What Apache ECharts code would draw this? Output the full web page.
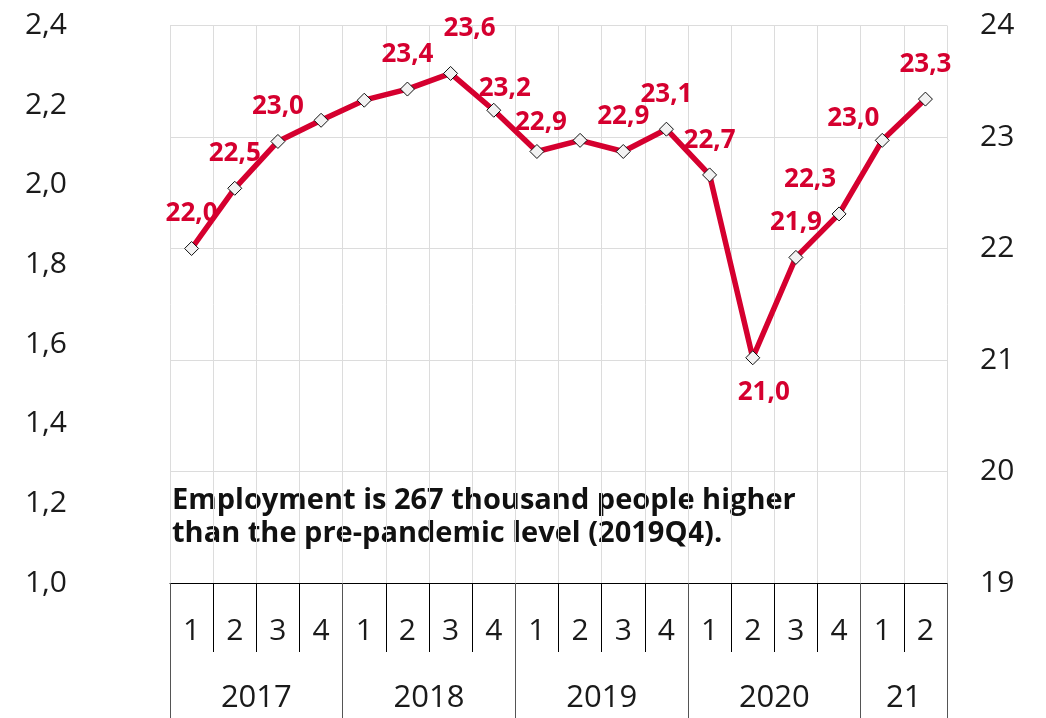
<!DOCTYPE html>
<html>
<head>
    <meta charset="UTF-8">
    <title>Employment</title>
    <script src="https://cdn.jsdelivr.net/npm/echarts@6/dist/echarts.min.js"></script>
    <style>
        html, body {margin: 0; padding: 0; background: #fff;}
        #chart {width: 1046px; height: 718px;}
    </style>
</head>
<body>

<div id="chart"></div>

<script>
    // quarters and years on the two-level x axis
    var quarters = ['1', '2', '3', '4', '1', '2', '3', '4', '1', '2', '3', '4', '1', '2', '3', '4', '1', '2'];
    var years = ['2017', '2018', '2019', '2020', '21'];
    var yearSpans = [4, 4, 4, 4, 2]; // quarters per year

    // employment, millions (right axis)
    var employment = [22.00, 22.54, 22.96, 23.15, 23.33, 23.43, 23.57, 23.24, 22.87, 22.97,
                      22.87, 23.07, 22.66, 21.02, 21.92, 22.31, 22.97, 23.34];
    // which points carry a value label
    var labelShown = [1, 1, 1, 0, 0, 1, 1, 1, 1, 0, 1, 1, 1, 1, 1, 1, 1, 1];

    var leftTicks = {min: 1.0, max: 2.4, interval: 0.2};
    var rightTicks = {min: 19, max: 24, interval: 1};

    var note = 'Employment is 267 thousand people higher\nthan the pre-pandemic level (2019Q4).';

    var red = '#d5002f';
    var font = 'Open Sans';

    // label nudges (style only)
    var labelTweak = {
        6: {offset: [19, -10]},
        7: {offset: [11, 13]},
        8: {offset: [4, 6]},
        13: {position: 'bottom', offset: [11, 0]},
        15: {offset: [-29, 0]},
        16: {offset: [-29, 13]}
    };

    // year axis: boundary slots 0..18, label in middle of each year
    var yearSlots = [];
    var yearBounds = [0];
    for (var i = 0; i <= quarters.length; i++) yearSlots.push('');
    var pos = 0;
    for (var j = 0; j < years.length; j++) {
        yearSlots[pos + yearSpans[j] / 2] = years[j];
        pos += yearSpans[j];
        yearBounds.push(pos);
    }

    var seriesData = employment.map(function (v, i) {
        var item = {value: v, label: {show: !!labelShown[i]}};
        if (labelTweak[i]) {
            for (var k in labelTweak[i]) item.label[k] = labelTweak[i][k];
        }
        return item;
    });

    var myChart = echarts.init(document.getElementById('chart'));

    var option = {
        backgroundColor: '#fff',
        animation: false,
        textStyle: {fontFamily: font},
        grid: {left: 170, right: 99, top: 25.5, bottom: 135},
        xAxis: [{
            type: 'category',
            data: quarters,
            boundaryGap: true,
            axisLine: {show: true, lineStyle: {color: '#000', width: 1}},
            axisTick: {show: true, interval: 0, length: 69, lineStyle: {color: '#000'}},
            axisLabel: {interval: 0, margin: 33, fontSize: 30, color: '#1a1a1a', fontFamily: font},
            splitLine: {show: true, interval: 0, lineStyle: {color: '#dcdcdc', width: 1}}
        }, {
            type: 'category',
            position: 'bottom',
            data: yearSlots,
            boundaryGap: false,
            axisLine: {show: false},
            axisTick: {
                show: true,
                length: 135,
                interval: function (idx) { return yearBounds.indexOf(idx) >= 0; },
                lineStyle: {color: '#555'}
            },
            axisLabel: {
                interval: 0, margin: 100, fontSize: 31, color: '#1a1a1a', fontFamily: font
            },
            splitLine: {show: false}
        }],
        yAxis: [{
            type: 'value',
            position: 'left',
            min: leftTicks.min,
            max: leftTicks.max,
            interval: leftTicks.interval,
            axisLine: {show: false},
            axisTick: {show: false},
            splitLine: {show: false},
            axisLabel: {
                margin: 103, fontSize: 30, color: '#1a1a1a', fontFamily: font,
                formatter: function (v) { return v.toFixed(1).replace('.', ','); }
            }
        }, {
            type: 'value',
            position: 'right',
            min: rightTicks.min,
            max: rightTicks.max,
            interval: rightTicks.interval,
            axisLine: {show: false},
            axisTick: {show: false},
            splitLine: {show: true, lineStyle: {color: '#dcdcdc', width: 1}},
            axisLabel: {margin: 33, fontSize: 30, color: '#1a1a1a', fontFamily: font}
        }],
        graphic: [{
            type: 'text',
            left: 172,
            top: 484,
            style: {
                text: note,
                font: 'bold 29px "Open Sans"',
                fill: '#111',
                lineHeight: 33
            }
        }],
        series: [{
            type: 'line',
            yAxisIndex: 1,
            data: seriesData,
            symbol: 'diamond',
            symbolSize: 14,
            lineStyle: {color: red, width: 5.5},
            itemStyle: {color: '#f2f2f2', borderColor: '#111', borderWidth: 1},
            label: {
                show: true,
                position: 'top',
                distance: 14,
                color: red,
                fontWeight: 'bold',
                fontSize: 26,
                fontFamily: font,
                formatter: function (p) { return p.value.toFixed(1).replace('.', ','); }
            },
            z: 5
        }]
    };
    myChart.setOption(option);
</script>

</body>
</html>
